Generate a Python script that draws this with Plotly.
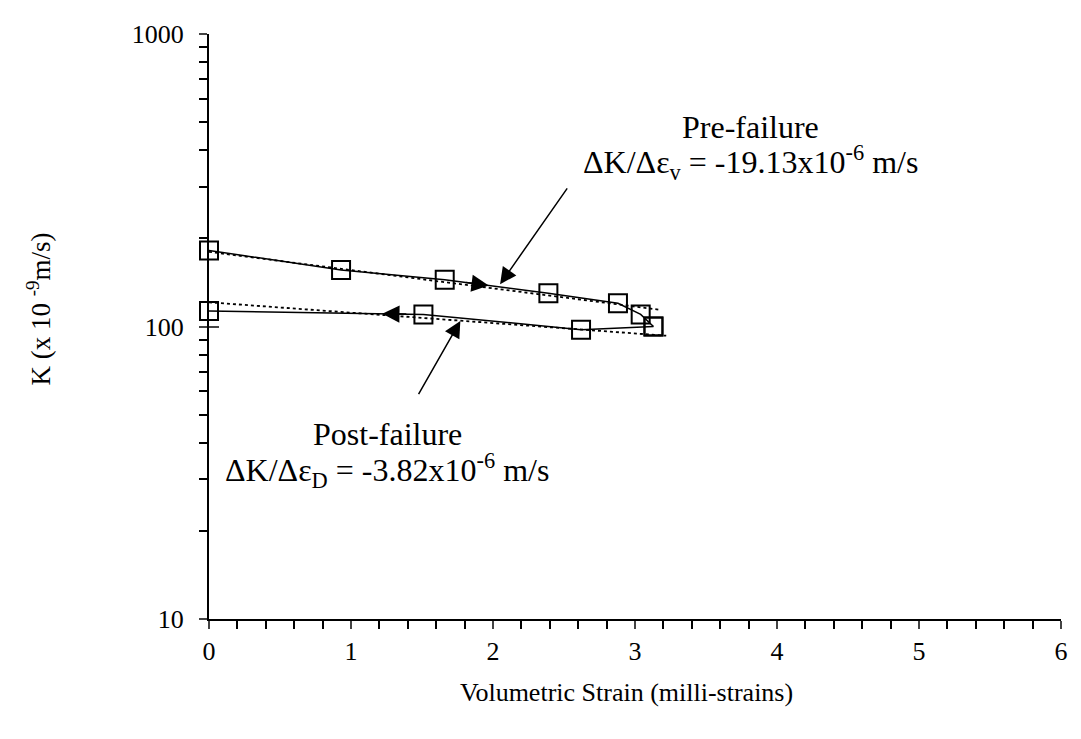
import numpy as np
import plotly.graph_objects as go

# ---- data ----
pre_strain = [0.0, 0.93, 1.66, 2.39, 2.88, 3.04, 3.13]
pre_K = [182, 156, 144.5, 130, 120, 110, 100]

post_strain = [3.13, 2.62, 1.51, 0.0]
post_K = [100, 97.5, 110, 113]

pre_fit_strain = [0.0, 3.18]
pre_fit_K = [180, 114]
post_fit_strain = [0.0, 3.22]
post_fit_K = [121, 93]

x_ticks = [0, 1, 2, 3, 4, 5, 6]
y_ticks = [10, 100, 1000]
y_tick_text = ["10", "100", "1000"]
y_minor = [m * d for d in (10, 100) for m in range(2, 10)]

# arrow positions along the data lines (direction markers)
pre_dir_x, pre_dir_tail = 1.97, 1.80
post_dir_x, post_dir_tail = 1.22, 1.40

# pointer arrows (tip, tail) in data units
pre_ptr = dict(x=2.05, K=139.5, ax=2.53, aK=300)
post_ptr = dict(x=1.77, K=104.5, ax=1.47, aK=58)

FONT = "Liberation Serif, Times New Roman, serif"

fig = go.Figure()

fig.add_trace(go.Scatter(x=pre_fit_strain, y=pre_fit_K, mode="lines",
                         line=dict(color="black", width=1.8, dash="dot"),
                         showlegend=False, hoverinfo="skip"))
fig.add_trace(go.Scatter(x=post_fit_strain, y=post_fit_K, mode="lines",
                         line=dict(color="black", width=1.8, dash="dot"),
                         showlegend=False, hoverinfo="skip"))
fig.add_trace(go.Scatter(x=pre_strain, y=pre_K, mode="lines+markers",
                         line=dict(color="black", width=1.5),
                         marker=dict(symbol="square-open", size=18,
                                     color="black", line=dict(width=2)),
                         cliponaxis=False, showlegend=False))
fig.add_trace(go.Scatter(x=post_strain, y=post_K, mode="lines+markers",
                         line=dict(color="black", width=1.5),
                         marker=dict(symbol="square-open", size=18,
                                     color="black", line=dict(width=2)),
                         cliponaxis=False, showlegend=False))
# helper trace for the overlay axis (inside major ticks)
fig.add_trace(go.Scatter(x=[None], y=[None], yaxis="y2", showlegend=False))


def logk_on(xs, ks, x):
    order = np.argsort(xs)
    return float(np.interp(x, np.array(xs)[order], np.log10(np.array(ks))[order]))


annos = []
# direction arrowheads on the data lines
for (xs, ks, tip, tail) in [(pre_strain, pre_K, pre_dir_x, pre_dir_tail),
                            (post_strain, post_K, post_dir_x, post_dir_tail)]:
    annos.append(dict(x=tip, y=logk_on(xs, ks, tip), ax=tail,
                      ay=logk_on(xs, ks, tail), xref="x", yref="y",
                      axref="x", ayref="y", text="", showarrow=True,
                      arrowhead=2, arrowsize=2.3, arrowwidth=1.5,
                      arrowcolor="black"))
# pointer arrows
for p in (pre_ptr, post_ptr):
    annos.append(dict(x=p["x"], y=np.log10(p["K"]), ax=p["ax"],
                      ay=np.log10(p["aK"]), xref="x", yref="y",
                      axref="x", ayref="y", text="", showarrow=True,
                      arrowhead=2, arrowsize=2.2, arrowwidth=1.5,
                      arrowcolor="black"))

label_font = dict(family=FONT, size=32, color="black")
annos += [
    dict(x=3.81, y=np.log10(480), xref="x", yref="y", showarrow=False,
         text="Pre-failure", font=label_font),
    dict(x=3.81, y=np.log10(365), xref="x", yref="y", showarrow=False,
         text="ΔK/Δε<sub>v</sub> = -19.13x10<sup>-6</sup> m/s", font=label_font),
    dict(x=1.26, y=np.log10(43), xref="x", yref="y", showarrow=False,
         text="Post-failure", font=label_font),
    dict(x=1.25, y=np.log10(32.2), xref="x", yref="y", showarrow=False,
         text="ΔK/Δε<sub>D</sub> = -3.82x10<sup>-6</sup> m/s", font=label_font),
    # axis titles
    dict(x=0.49, y=-0.125, xref="paper", yref="paper", showarrow=False,
         text="Volumetric Strain (milli-strains)",
         font=dict(family=FONT, size=26, color="black"),
         xanchor="center", yanchor="middle"),
    dict(x=-0.2, y=0.53, xref="paper", yref="paper", showarrow=False,
         text="K (x 10 <sup>-9</sup>m/s)",
         font=dict(family=FONT, size=27, color="black"), textangle=-90,
         xanchor="center", yanchor="middle"),
]

fig.update_layout(
    width=1081, height=739,
    margin=dict(l=201, r=28, t=23, b=128),
    paper_bgcolor="white", plot_bgcolor="white",
    font=dict(family=FONT, size=26, color="black"),
    showlegend=False,
    annotations=annos,
    xaxis=dict(range=[0, 6], tickvals=x_ticks, ticks="outside", ticklen=8,
               tickwidth=1.5, showline=True, linecolor="black", linewidth=2,
               showgrid=False, zeroline=False,
               minor=dict(dtick=0.2, ticks="outside", ticklen=8,
                          tickwidth=1.5, tickcolor="black", showgrid=False),
               tickfont=dict(family=FONT, size=26)),
    yaxis=dict(type="log", range=[1, 3], tickvals=y_ticks, ticktext=y_tick_text,
               ticks="outside", ticklen=8, tickwidth=1.5, showline=True,
               linecolor="black", linewidth=2, showgrid=False, zeroline=False,
               ticklabelstandoff=10,
               minor=dict(tickvals=y_minor, ticks="outside", ticklen=8,
                          tickwidth=1.5, tickcolor="black", showgrid=False),
               tickfont=dict(family=FONT, size=26)),
    yaxis2=dict(type="log", range=[1, 3], overlaying="y", side="left",
                tickvals=y_ticks, ticks="inside", ticklen=10, tickwidth=1.5,
                showticklabels=False, showline=False, showgrid=False,
                zeroline=False),
)

fig.write_html("out.html")
